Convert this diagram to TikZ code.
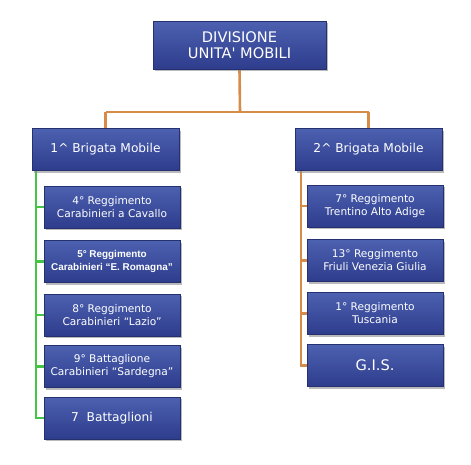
\documentclass[tikz,border=0pt]{standalone}
\usepackage{fontspec}
\setmainfont{DejaVu Sans}
\newfontfamily\cinquefont{Liberation Sans}
\usetikzlibrary{shadows,calc,backgrounds}

\definecolor{boxtop}{RGB}{76,97,176}
\definecolor{boxbot}{RGB}{46,60,140}
\definecolor{boxline}{RGB}{36,48,112}
\definecolor{lineor}{RGB}{214,140,72}
\definecolor{linegr}{RGB}{70,196,70}

\tikzset{
  box/.style={rectangle, top color=boxtop, bottom color=boxbot, draw=boxline,
    line width=0.4pt, text=white, align=center, inner sep=1pt,
    drop shadow={shadow xshift=1.5pt, shadow yshift=-2pt, fill=black!45, opacity=0.6}},
  capo/.style={box, minimum width=173pt, minimum height=48pt,
    font=\fontsize{14.6}{16.5}\selectfont},
  brigata/.style={box, minimum width=147pt, minimum height=42pt,
    font=\fontsize{12.2}{14}\selectfont},
  reparto/.style={box, minimum width=136pt, minimum height=42pt,
    font=\fontsize{10.6}{13}\selectfont},
  ramo/.style={line width=2.6pt, draw=lineor},
  ramoverde/.style={line width=2.6pt, draw=linegr},
}

\begin{document}
\begin{tikzpicture}[x=1pt, y=-1pt]
  \useasboundingbox (0,0) rectangle (471,464);

  \coordinate (snodo) at (240,112);
  \coordinate (sx) at (105.5,112);
  \coordinate (dx) at (368.5,112);
  \coordinate (gtop) at (36,170);
  \coordinate (otop) at (301,171);

  % top of the tree
  \node[capo] (div) at (239.5,45) {DIVISIONE\\UNITA\textquotesingle{} MOBILI};

  % the two brigades
  \node[brigata] (b1) at (105.5,149.5) {1\^{} Brigata Mobile};
  \node[brigata] (b2) at (368.5,149.5) {2\^{} Brigata Mobile};

  % first brigade
  \node[reparto] (r4) at (112,207)   {4° Reggimento\\Carabinieri a Cavallo};
  \node[reparto, font=\cinquefont\bfseries\fontsize{9.9}{13}\selectfont] (r5) at (112,261.5) {5° Reggimento\\Carabinieri “E. Romagna”};
  \node[reparto] (r8) at (112,315)   {8° Reggimento\\Carabinieri “Lazio”};
  \node[reparto] (r9) at (112,366.5) {9° Battaglione\\Carabinieri “Sardegna”};
  \node[reparto, font=\fontsize{12.2}{14}\selectfont] (r7b) at (112,418) {7~~Battaglioni};

  % second brigade
  \node[reparto] (r7) at (375,206)   {7° Reggimento\\Trentino Alto Adige};
  \node[reparto] (r13) at (375,260.5) {13° Reggimento\\Friuli Venezia Giulia};
  \node[reparto] (r1) at (375,313.5) {1° Reggimento\\Tuscania};
  \node[reparto, font=\fontsize{14.6}{16}\selectfont] (gis) at (375,365.5) {G.I.S.};

  % links, behind the boxes
  \begin{scope}[on background layer]
    \draw[ramo] (div.south) -- (snodo);
    \draw[ramo] (sx) -- (dx);
    \draw[ramo] (sx) -- (b1.north);
    \draw[ramo] (dx) -- (b2.north);

    \draw[ramoverde] (gtop) |- (r7b.west);
    \foreach \r in {r4,r5,r8,r9}
      \draw[ramoverde] (gtop |- \r.west) -- (\r.west);

    \draw[ramo] (otop) |- (gis.west);
    \foreach \r in {r7,r13,r1}
      \draw[ramo] (otop |- \r.west) -- (\r.west);
  \end{scope}
\end{tikzpicture}
\end{document}
